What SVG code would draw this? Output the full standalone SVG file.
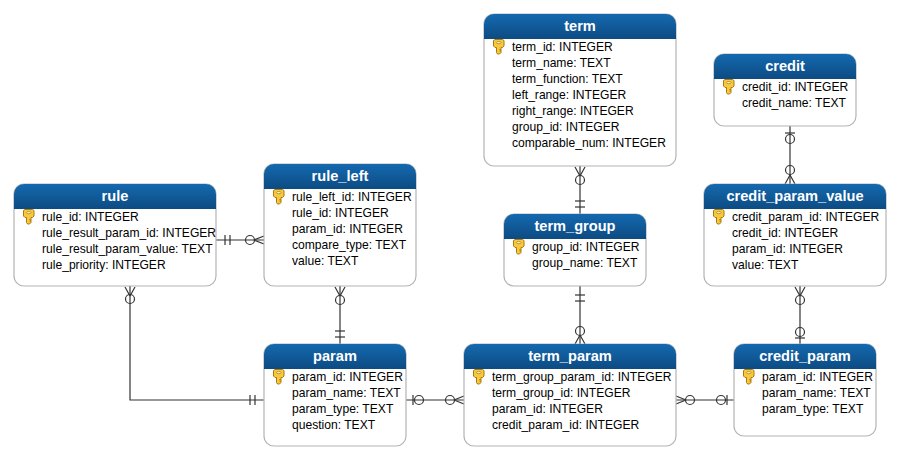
<svg xmlns="http://www.w3.org/2000/svg" xmlns:xlink="http://www.w3.org/1999/xlink" width="900" height="460" viewBox="0 0 900 460">
<style>
text{font-family:"Liberation Sans",Arial,sans-serif}
.b{fill:#fff;stroke:#b4b4b4;stroke-width:1.2}
.h{fill:url(#g)}
.t{font-size:14.6px;font-weight:bold;fill:#fff;text-anchor:middle}
.r{font-size:12.1px;fill:#000}
.c line,.c path,.c circle{stroke:#333;stroke-width:1.2;fill:none}
</style>
<defs>
<linearGradient id="g" x1="0" y1="0" x2="0" y2="1"><stop offset="0" stop-color="#1469b0"/><stop offset="1" stop-color="#0d4b82"/></linearGradient>
<g id="k"><path d="M0.5 1.5 L2 0.5 H9.5 L11 1.5 V7 L9.5 8.5 H8 V13.5 L6.5 15 H4.5 L3.5 13.5 V8.5 H2 L0.5 7 Z" fill="#f8c93c" stroke="#a9780f" stroke-width="1"/><ellipse cx="5.7" cy="3.6" rx="2.4" ry="1.1" fill="#fff3c0" stroke="#a9780f" stroke-width="0.7"/><path d="M8 10.5H6.3M8 12H6.3" stroke="#a9780f" stroke-width="0.8"/></g>
</defs>

<g id="connectors" class="c">
<line x1="216" y1="240" x2="264" y2="240"/><line x1="225" y1="235" x2="225" y2="245"/><line x1="230" y1="235" x2="230" y2="245"/><circle cx="250" cy="240" r="4.5"/><path d="M254 240L264 236M254 240L264 244"/>
<path d="M130 286V400H264"/><path d="M130 296L125 287M130 296L135 287"/><circle cx="130" cy="299" r="4.5"/><line x1="250" y1="395" x2="250" y2="405"/><line x1="255" y1="395" x2="255" y2="405"/>
<line x1="340" y1="286" x2="340" y2="344"/><path d="M340 296L335 287M340 296L345 287"/><circle cx="340" cy="300" r="4.5"/><line x1="335" y1="331" x2="345" y2="331"/><line x1="335" y1="337" x2="345" y2="337"/>
<line x1="406" y1="400" x2="464" y2="400"/><line x1="413" y1="395" x2="413" y2="405"/><circle cx="419" cy="400" r="4.5"/><circle cx="450" cy="400" r="4.5"/><path d="M454 400L464 396M454 400L464 404"/>
<line x1="580" y1="166" x2="580" y2="214"/><path d="M580 176L575 167M580 176L585 167"/><circle cx="580" cy="180" r="4.5"/><line x1="575" y1="201" x2="585" y2="201"/><line x1="575" y1="207" x2="585" y2="207"/>
<line x1="580" y1="286" x2="580" y2="344"/><line x1="575" y1="295" x2="585" y2="295"/><line x1="575" y1="301" x2="585" y2="301"/><circle cx="580" cy="331" r="4.5"/><path d="M580 335L575 344M580 335L585 344"/>
<line x1="790" y1="126" x2="790" y2="184"/><line x1="785" y1="133" x2="795" y2="133"/><circle cx="790" cy="139" r="4.5"/><circle cx="790" cy="170" r="4.5"/><path d="M790 175L785 184M790 175L795 184"/>
<line x1="800" y1="286" x2="800" y2="344"/><path d="M800 296L795 287M800 296L805 287"/><circle cx="800" cy="300" r="4.5"/><circle cx="800" cy="332" r="4.5"/><line x1="795" y1="338" x2="805" y2="338"/>
<line x1="676" y1="400" x2="734" y2="400"/><path d="M686 400L676 396M686 400L676 404"/><circle cx="690" cy="400" r="4.5"/><circle cx="721" cy="400" r="4.5"/><line x1="727" y1="395" x2="727" y2="405"/>
</g>

<g id="rule"><rect class="b" x="14" y="184" width="202" height="102" rx="10"/><path class="h" d="M14 209V194A10 10 0 0 1 24 184H206A10 10 0 0 1 216 194V209Z"/><text class="t" x="115" y="201">rule</text><use xlink:href="#k" x="23" y="209"/>
<text class="r" x="42" y="221">rule_id: INTEGER</text><text class="r" x="42" y="237">rule_result_param_id: INTEGER</text><text class="r" x="42" y="253">rule_result_param_value: TEXT</text><text class="r" x="42" y="269">rule_priority: INTEGER</text></g>

<g id="rule_left"><rect class="b" x="264" y="164" width="152" height="122" rx="10"/><path class="h" d="M264 189V174A10 10 0 0 1 274 164H406A10 10 0 0 1 416 174V189Z"/><text class="t" x="340" y="181">rule_left</text><use xlink:href="#k" x="273" y="189"/>
<text class="r" x="292" y="201">rule_left_id: INTEGER</text><text class="r" x="292" y="217">rule_id: INTEGER</text><text class="r" x="292" y="233">param_id: INTEGER</text><text class="r" x="292" y="249">compare_type: TEXT</text><text class="r" x="292" y="265">value: TEXT</text></g>

<g id="param"><rect class="b" x="264" y="344" width="142" height="102" rx="10"/><path class="h" d="M264 369V354A10 10 0 0 1 274 344H396A10 10 0 0 1 406 354V369Z"/><text class="t" x="335" y="361">param</text><use xlink:href="#k" x="273" y="369"/>
<text class="r" x="292" y="381">param_id: INTEGER</text><text class="r" x="292" y="397">param_name: TEXT</text><text class="r" x="292" y="413">param_type: TEXT</text><text class="r" x="292" y="429">question: TEXT</text></g>

<g id="term_param"><rect class="b" x="464" y="344" width="212" height="102" rx="10"/><path class="h" d="M464 369V354A10 10 0 0 1 474 344H666A10 10 0 0 1 676 354V369Z"/><text class="t" x="570" y="361">term_param</text><use xlink:href="#k" x="473" y="369"/>
<text class="r" x="492" y="381">term_group_param_id: INTEGER</text><text class="r" x="492" y="397">term_group_id: INTEGER</text><text class="r" x="492" y="413">param_id: INTEGER</text><text class="r" x="492" y="429">credit_param_id: INTEGER</text></g>

<g id="credit_param"><rect class="b" x="734" y="344" width="142" height="92" rx="10"/><path class="h" d="M734 369V354A10 10 0 0 1 744 344H866A10 10 0 0 1 876 354V369Z"/><text class="t" x="805" y="361">credit_param</text><use xlink:href="#k" x="743" y="369"/>
<text class="r" x="762" y="381">param_id: INTEGER</text><text class="r" x="762" y="397">param_name: TEXT</text><text class="r" x="762" y="413">param_type: TEXT</text></g>

<g id="term"><rect class="b" x="484" y="14" width="192" height="152" rx="10"/><path class="h" d="M484 39V24A10 10 0 0 1 494 14H666A10 10 0 0 1 676 24V39Z"/><text class="t" x="580" y="31">term</text><use xlink:href="#k" x="493" y="39"/>
<text class="r" x="512" y="51">term_id: INTEGER</text><text class="r" x="512" y="67">term_name: TEXT</text><text class="r" x="512" y="83">term_function: TEXT</text><text class="r" x="512" y="99">left_range: INTEGER</text><text class="r" x="512" y="115">right_range: INTEGER</text><text class="r" x="512" y="131">group_id: INTEGER</text><text class="r" x="512" y="147">comparable_num: INTEGER</text></g>

<g id="term_group"><rect class="b" x="504" y="214" width="142" height="72" rx="10"/><path class="h" d="M504 239V224A10 10 0 0 1 514 214H636A10 10 0 0 1 646 224V239Z"/><text class="t" x="575" y="231">term_group</text><use xlink:href="#k" x="513" y="239"/>
<text class="r" x="532" y="251">group_id: INTEGER</text><text class="r" x="532" y="267">group_name: TEXT</text></g>

<g id="credit"><rect class="b" x="714" y="54" width="142" height="72" rx="10"/><path class="h" d="M714 79V64A10 10 0 0 1 724 54H846A10 10 0 0 1 856 64V79Z"/><text class="t" x="785" y="71">credit</text><use xlink:href="#k" x="723" y="79"/>
<text class="r" x="742" y="91">credit_id: INTEGER</text><text class="r" x="742" y="107">credit_name: TEXT</text></g>

<g id="credit_param_value"><rect class="b" x="704" y="184" width="182" height="102" rx="10"/><path class="h" d="M704 209V194A10 10 0 0 1 714 184H876A10 10 0 0 1 886 194V209Z"/><text class="t" x="795" y="201">credit_param_value</text><use xlink:href="#k" x="713" y="209"/>
<text class="r" x="732" y="221">credit_param_id: INTEGER</text><text class="r" x="732" y="237">credit_id: INTEGER</text><text class="r" x="732" y="253">param_id: INTEGER</text><text class="r" x="732" y="269">value: TEXT</text></g>
</svg>
